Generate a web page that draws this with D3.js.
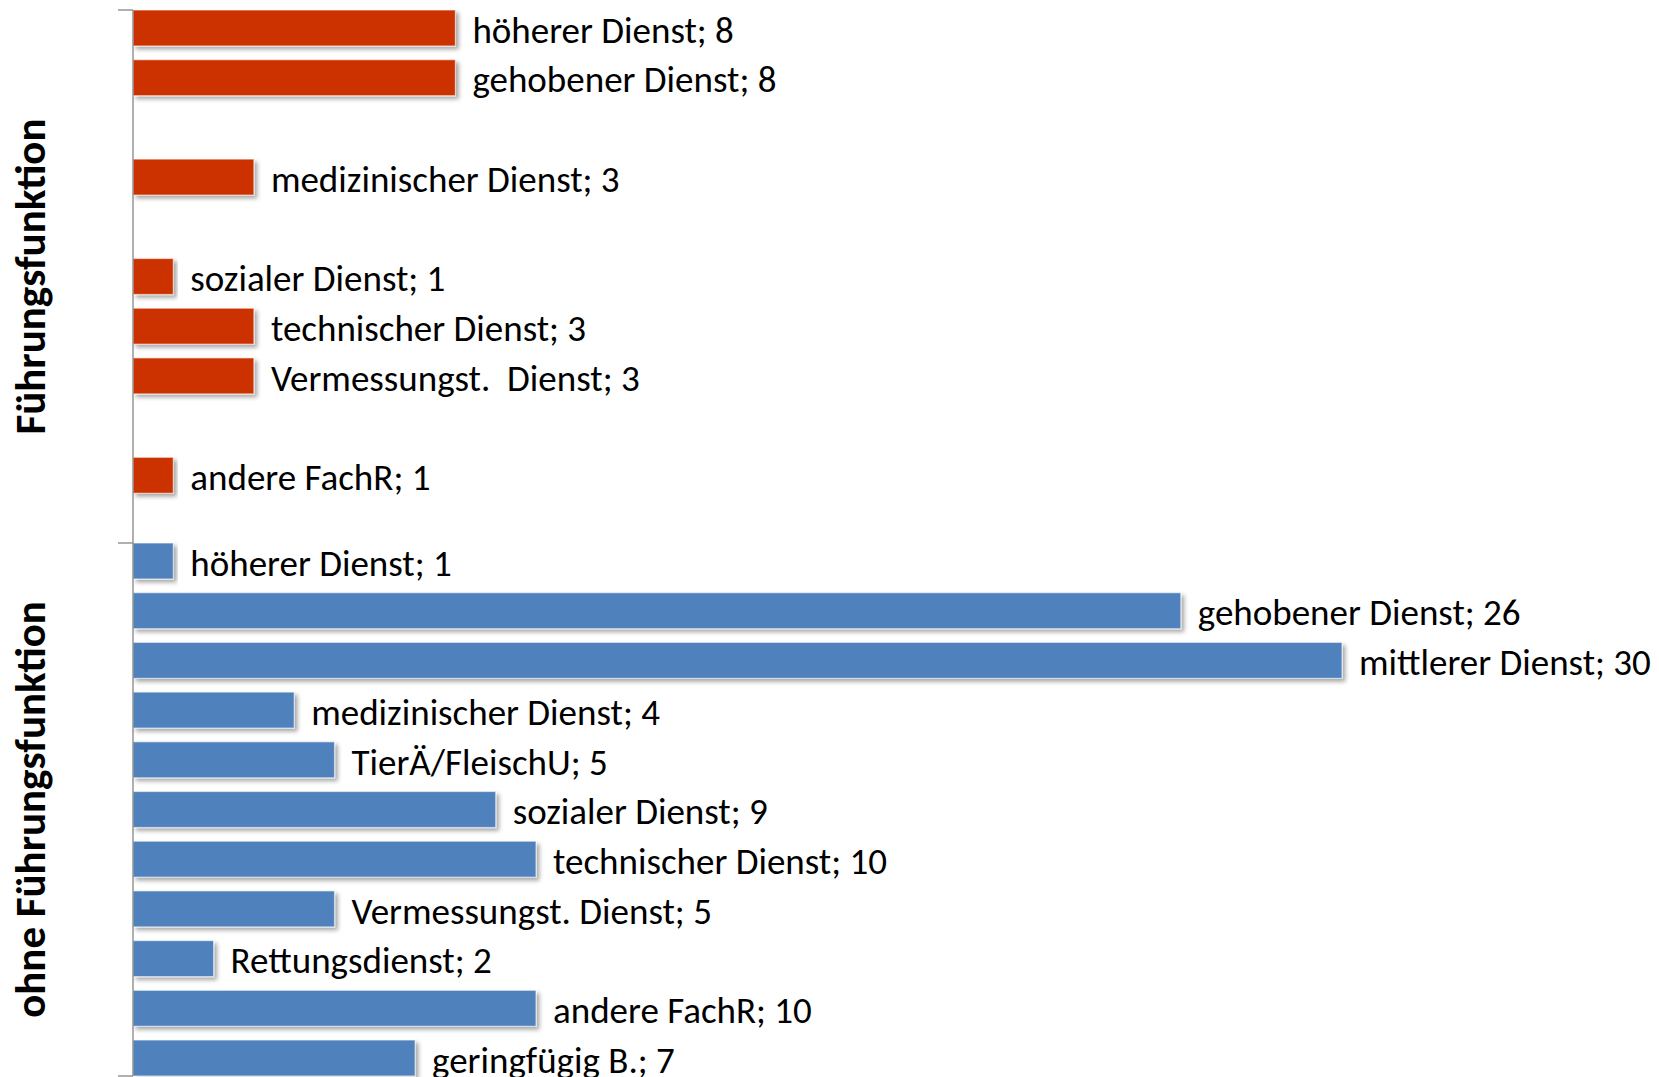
<!DOCTYPE html>
<html>
<head>
<meta charset="utf-8">
<script src="https://cdn.jsdelivr.net/npm/d3@7"></script>
<style>
  body { margin: 0; background: #fff; }
  text { font-family: Carlito, Calibri, Lato, sans-serif; }
</style>
</head>
<body>
<div id="graf"></div>
<script>
// Kategorien (gleiche Reihenfolge in beiden Gruppen)
const kategorien = ['höherer Dienst', 'gehobener Dienst', 'mittlerer Dienst', 'medizinischer Dienst',
  'TierÄ/FleischU', 'sozialer Dienst', 'technischer Dienst', 'Vermessungst. Dienst',
  'Rettungsdienst', 'andere FachR', 'geringfügig B.']
const namenMitFuehrung = ['höherer Dienst', 'gehobener Dienst', 'mittlerer Dienst', 'medizinischer Dienst',
  'TierÄ/FleischU', 'sozialer Dienst', 'technischer Dienst', 'Vermessungst.  Dienst',
  'Rettungsdienst', 'andere FachR', 'geringfügig B.']
const gruppen = ['Führungsfunktion', 'ohne Führungsfunktion']
const mitFuehrung = [8, 8, null, 3, null, 1, 3, 3, null, 1, null]
const ohneFuehrung = [1, 26, 30, 4, 5, 9, 10, 5, 2, 10, 7]
const farben = ['#CC3300', '#4F81BD']

const anchoTotal = 1659
const altoTotal = 1077

const svg = d3.select('#graf')
  .append('svg')
  .attr('width', anchoTotal)
  .attr('height', altoTotal)

const defs = svg.append('defs')
defs.append('filter')
  .attr('id', 'schatten')
  .attr('x', '-5%').attr('y', '-20%')
  .attr('width', '115%').attr('height', '160%')
  .append('feDropShadow')
  .attr('dx', 3).attr('dy', 3)
  .attr('stdDeviation', 2)
  .attr('flood-color', '#000')
  .attr('flood-opacity', 0.35)

const achseX = 133

const x = d3.scaleLinear()
  .domain([0, 30])
  .range([achseX, 1342])

const yGruppe = d3.scaleBand()
  .domain(gruppen)
  .range([10, 1076])
  .padding(0)

const yKat = d3.scaleBand()
  .domain(d3.range(kategorien.length))
  .range([0, yGruppe.bandwidth()])
  .paddingInner(0.276)
  .paddingOuter(0)

const daten = []
mitFuehrung.forEach((v, i) => {
  if (v != null) daten.push({ gruppe: gruppen[0], i: i, name: namenMitFuehrung[i], wert: v, farbe: farben[0] })
})
ohneFuehrung.forEach((v, i) => {
  if (v != null) daten.push({ gruppe: gruppen[1], i: i, name: kategorien[i], wert: v, farbe: farben[1] })
})

const yPos = d => yGruppe(d.gruppe) + yKat(d.i)

// Balken
svg.append('g')
  .selectAll('rect')
  .data(daten)
  .join('rect')
    .attr('x', x(0))
    .attr('y', yPos)
    .attr('width', d => x(d.wert) - x(0))
    .attr('height', yKat.bandwidth())
    .attr('fill', d => d.farbe)
    .attr('stroke', '#ffffff')
    .attr('stroke-opacity', 0.55)
    .attr('stroke-width', 1.2)
    .attr('filter', 'url(#schatten)')

// Achse mit Gruppentrennern
const achse = svg.append('g')
achse.append('line')
  .attr('x1', achseX).attr('x2', achseX)
  .attr('y1', yGruppe.range()[0]).attr('y2', yGruppe.range()[1])
  .attr('stroke', '#868686')
  .attr('stroke-width', 1.3)

const grenzen = gruppen.map(g => yGruppe(g)).concat([yGruppe.range()[1]])
achse.selectAll('.grenze')
  .data(grenzen)
  .join('line')
    .attr('class', 'grenze')
    .attr('x1', achseX - 15).attr('x2', achseX)
    .attr('y1', d => d).attr('y2', d => d)
    .attr('stroke', '#868686')
    .attr('stroke-width', 1.3)

// Gruppenbeschriftung
svg.append('g')
  .selectAll('text')
  .data(gruppen)
  .join('text')
    .attr('transform', g => `translate(45, ${yGruppe(g) + yGruppe.bandwidth() / 2}) rotate(-90)`)
    .attr('text-anchor', 'middle')
    .attr('font-size', 43)
    .attr('font-weight', 'bold')
    .attr('fill', '#000')
    .text(g => g)

// Datenbeschriftungen
svg.append('g')
  .selectAll('text')
  .data(daten)
  .join('text')
    .attr('x', d => x(d.wert) + 17)
    .attr('y', d => yPos(d) + yKat.bandwidth() / 2)
    .attr('dy', '0.4em')
    .attr('font-size', 37)
    .attr('fill', '#000')
    .style('white-space', 'pre')
    .text(d => `${d.name}; ${d.wert}`)
</script>
</body>
</html>
